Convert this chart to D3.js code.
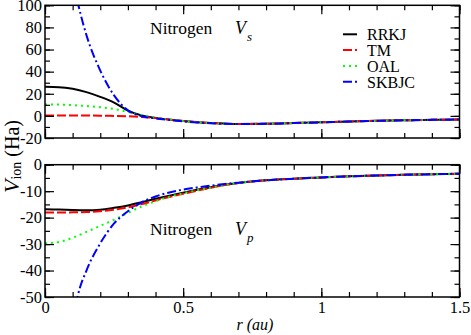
<!DOCTYPE html>
<html>
<head>
<meta charset="utf-8">
<script src="https://cdn.jsdelivr.net/npm/d3@7"></script>
<style>
  #c text, #c tspan { font-family: "Liberation Serif", "Times New Roman", serif !important; }
</style>
</head>
<body style="margin:0">
<svg id="c" width="471" height="335" font-family="Liberation Serif"></svg>
<script>
// r grid (au) shared by RRKJ, TM, OAL
const rGrid = [0, 0.05, 0.1, 0.15, 0.2, 0.25, 0.3, 0.35, 0.4, 0.45, 0.5, 0.55, 0.6, 0.65, 0.7,
               0.8, 0.9, 1.0, 1.1, 1.2, 1.3, 1.4, 1.5];
// SKBJC is sampled from r = 0.08 (it runs off the panels before that)
const rSkbjc = [0.08, 0.1, 0.12, 0.15, 0.2, 0.25, 0.3, 0.35, 0.4, 0.45, 0.5, 0.55, 0.6, 0.65, 0.7,
                0.8, 0.9, 1.0, 1.1, 1.2, 1.3, 1.4, 1.5];

// V_s (Ha)
const sRRKJ  = [26.3, 26.0, 24.5, 21.5, 17.2, 12.0, 4.8, 0.4, -1.8, -3.4, -4.7, -5.7, -6.5, -7.0, -7.3,
                -7.1, -6.5, -5.8, -5.1, -4.5, -4.0, -3.6, -3.2];
const sTM    = [0.4, 0.4, 0.4, 0.3, 0.2, 0.0, -0.3, -1.0, -2.0, -3.3, -4.6, -5.6, -6.4, -7.0, -7.3,
                -7.1, -6.5, -5.8, -5.1, -4.5, -4.0, -3.6, -3.2];
const sOAL   = [10.4, 10.2, 9.7, 8.9, 7.9, 6.2, 3.6, 0.6, -1.7, -3.3, -4.7, -5.7, -6.5, -7.0, -7.3,
                -7.1, -6.5, -5.8, -5.1, -4.5, -4.0, -3.6, -3.2];
const sSKBJC = [150, 124, 101, 73, 41, 18.5, 5.0, -0.3, -2.2, -3.6, -4.9, -5.9, -6.7, -7.2, -7.4,
                -7.2, -6.5, -5.8, -5.1, -4.5, -4.0, -3.6, -3.2];

// V_p (Ha)
const pRRKJ  = [-16.8, -16.9, -17.1, -17.2, -17.0, -16.3, -15.4, -14.2, -12.9, -11.7, -10.6, -9.5, -8.5, -7.6, -6.9,
                -5.9, -5.3, -4.8, -4.4, -4.1, -3.8, -3.6, -3.4];
const pTM    = [-18.1, -18.1, -18.0, -17.9, -17.6, -17.0, -16.1, -14.9, -13.5, -12.2, -11.0, -9.8, -8.7, -7.7, -6.9,
                -5.9, -5.3, -4.8, -4.4, -4.1, -3.8, -3.6, -3.4];
const pOAL   = [-29.7, -29.2, -27.6, -25.4, -23.1, -20.8, -18.2, -15.8, -13.8, -12.1, -10.8, -9.7, -8.7, -7.7, -6.9,
                -5.9, -5.3, -4.8, -4.4, -4.1, -3.8, -3.6, -3.4];
const pSKBJC = [-72, -60, -49, -40, -29.7, -22.2, -17.6, -14.2, -12.0, -10.5, -9.4, -8.6, -7.9, -7.3, -6.8,
                -5.9, -5.3, -4.8, -4.4, -4.1, -3.8, -3.6, -3.4];

const seriesNames = ['RRKJ', 'TM', 'OAL', 'SKBJC'];
const xTicks = [0, 0.5, 1, 1.5];
const yTicksS = [-20, 0, 20, 40, 60, 80, 100];
const yTicksP = [-50, -40, -30, -20, -10, 0];

const styles = {
  RRKJ:  {color: '#000000', dash: null},
  TM:    {color: '#ff0000', dash: '9,3'},
  OAL:   {color: '#00ff00', dash: '2,4'},
  SKBJC: {color: '#0000ff', dash: '9,3,2,3'}
};

const fam = 'Liberation Serif';
const svg = d3.select('#c');
const left = 45, right = 459.5;

const x = d3.scaleLinear().domain([0, 1.5]).range([0, right - left]);
const w = right - left;

// text helper: sets the family both ways so it cannot fall back to sans
function txt(sel, size) {
  return sel.append('text')
    .attr('font-family', fam).style('font-family', '"' + fam + '"')
    .attr('font-size', size).style('font-size', size + 'px')
    .attr('fill', '#000');
}

function panel(id, top, bottom, yDomain, yTicks, yMinor, data, showX) {
  const h = bottom - top;
  const y = d3.scaleLinear().domain(yDomain).range([h, 0]);
  const g = svg.append('g').attr('transform', 'translate(' + left + ',' + top + ')');

  g.append('clipPath').attr('id', id)
    .append('rect').attr('width', w).attr('height', h);

  const line = d3.line()
    .x(d => x(d[0]))
    .y(d => y(d[1]))
    .curve(d3.curveMonotoneX);

  const lines = g.append('g').attr('clip-path', 'url(#' + id + ')');
  data.forEach(s => {
    const st = styles[s.name];
    lines.append('path')
      .datum(d3.zip(s.r, s.v))
      .attr('fill', 'none')
      .attr('stroke', st.color)
      .attr('stroke-width', 2)
      .attr('stroke-dasharray', st.dash)
      .attr('d', line);
  });

  const xMinor = d3.range(0, 1.51, 0.1).map(d => +d.toFixed(1));

  // minor ticks, all four sides, pointing inward
  g.append('g').call(d3.axisLeft(y).tickValues(yMinor).tickSize(-5).tickFormat(''));
  g.append('g').attr('transform', 'translate(' + w + ',0)')
    .call(d3.axisRight(y).tickValues(yMinor).tickSize(-5).tickFormat(''));
  g.append('g').call(d3.axisTop(x).tickValues(xMinor).tickSize(-5).tickFormat(''));
  g.append('g').attr('transform', 'translate(0,' + h + ')')
    .call(d3.axisBottom(x).tickValues(xMinor).tickSize(-5).tickFormat(''));

  // major ticks
  g.append('g').attr('class', 'lab')
    .call(d3.axisLeft(y).tickValues(yTicks).tickSize(-9).tickPadding(3).tickFormat(d => String(d)));
  g.append('g').attr('transform', 'translate(' + w + ',0)')
    .call(d3.axisRight(y).tickValues(yTicks).tickSize(-9).tickFormat(''));
  g.append('g').call(d3.axisTop(x).tickValues(xTicks).tickSize(-9).tickFormat(''));
  g.append('g').attr('class', showX ? 'lab' : '').attr('transform', 'translate(0,' + h + ')')
    .call(d3.axisBottom(x).tickValues(xTicks).tickSize(-9).tickPadding(4)
      .tickFormat(showX ? (d => String(d)) : ''));

  g.selectAll('.domain').remove();
  g.selectAll('g').attr('font-family', fam).attr('font-size', 16.5);
  g.selectAll('.tick line').attr('stroke', '#000').attr('stroke-width', 1.2);
  g.selectAll('.lab text')
    .attr('font-family', fam).style('font-family', '"' + fam + '"')
    .style('font-size', '16.5px').attr('fill', '#000');

  g.append('rect')
    .attr('width', w).attr('height', h)
    .attr('fill', 'none').attr('stroke', '#000').attr('stroke-width', 1.5);

  return g;
}

panel('clipS', 5.3, 138, [-20, 100], yTicksS, d3.range(-20, 101, 10), [
  {name: 'RRKJ', r: rGrid, v: sRRKJ},
  {name: 'TM', r: rGrid, v: sTM},
  {name: 'OAL', r: rGrid, v: sOAL},
  {name: 'SKBJC', r: rSkbjc, v: sSKBJC}
], false);

panel('clipP', 164.7, 297, [-50, 0], yTicksP, d3.range(-50, 1, 5), [
  {name: 'RRKJ', r: rGrid, v: pRRKJ},
  {name: 'TM', r: rGrid, v: pTM},
  {name: 'OAL', r: rGrid, v: pOAL},
  {name: 'SKBJC', r: rSkbjc, v: pSKBJC}
], true);

// panel annotations
function label(yBase, sub) {
  txt(svg, 17.5).attr('x', 150).attr('y', yBase).text('Nitrogen');
  const t = txt(svg, 18).attr('x', 235).attr('y', yBase).style('font-style', 'italic');
  t.append('tspan').text('V');
  t.append('tspan').style('font-size', '13px').attr('dy', 7).attr('dx', 1).text(sub);
}
label(34.3, 's');
label(235, 'p');

// legend
const legend = svg.append('g').attr('transform', 'translate(343,34.3)');
seriesNames.forEach((n, i) => {
  const row = legend.append('g').attr('transform', 'translate(0,' + (i * 15.8) + ')');
  row.append('line').attr('x1', 0).attr('x2', 14)
    .attr('stroke', styles[n].color).attr('stroke-width', 2)
    .attr('stroke-dasharray', styles[n].dash);
  txt(row, 16).attr('x', 24).attr('y', 6).text(n);
});

// axis titles
const yl = txt(svg, 20).attr('transform', 'translate(19,193) rotate(-90)');
yl.append('tspan').style('font-style', 'italic').style('font-size', '22px').text('V');
yl.append('tspan').style('font-size', '14px').attr('dy', 2).text('ion');
yl.append('tspan').attr('dy', -2).attr('dx', 5).text('(Ha)');

txt(svg, 16).attr('x', 255).attr('y', 330)
  .attr('text-anchor', 'middle')
  .style('font-style', 'italic')
  .text('r (au)');
</script>
</body>
</html>
